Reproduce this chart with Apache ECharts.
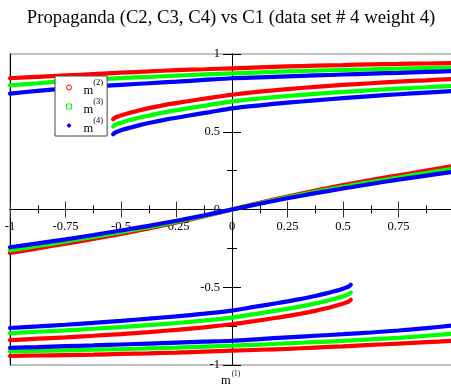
<!DOCTYPE html>
<html><head><meta charset="utf-8">
<script src="https://cdn.jsdelivr.net/npm/echarts@6/dist/echarts.min.js"></script>
<style>html,body{margin:0;padding:0;background:#fff}#c{width:451px;height:385px}</style>
</head><body><div id="c"></div>
<script>
// ---- data ----
const xTickLabels = ['-1', '-0.75', '-0.5', '-0.25', '0', '0.25', '0.5', '0.75', '1'];
const yTickLabels = ['-1', '-0.5', '0', '0.5', '1'];

const xFull = [-1, -0.875, -0.75, -0.625, -0.5, -0.375, -0.25, -0.125, 0, 0.125, 0.25, 0.375, 0.5, 0.625, 0.75, 0.875, 1];

// upper outer branch
const m2UpperA = [0.844, 0.853, 0.862, 0.871, 0.880, 0.888, 0.896, 0.902, 0.908, 0.914, 0.920, 0.925, 0.929, 0.933, 0.936, 0.939, 0.942];
const m3UpperA = [0.799, 0.812, 0.825, 0.835, 0.845, 0.853, 0.861, 0.869, 0.876, 0.882, 0.888, 0.893, 0.898, 0.902, 0.906, 0.910, 0.913];
const m4UpperA = [0.745, 0.763, 0.778, 0.791, 0.802, 0.812, 0.822, 0.833, 0.844, 0.850, 0.856, 0.862, 0.868, 0.874, 0.879, 0.885, 0.890];

// lower outer branch
const m2LowerA = [-0.942, -0.939, -0.936, -0.933, -0.929, -0.925, -0.920, -0.914, -0.908, -0.902, -0.896, -0.888, -0.880, -0.871, -0.862, -0.853, -0.844];
const m3LowerA = [-0.913, -0.910, -0.906, -0.902, -0.898, -0.893, -0.888, -0.882, -0.876, -0.869, -0.861, -0.853, -0.845, -0.835, -0.825, -0.812, -0.799];
const m4LowerA = [-0.890, -0.885, -0.879, -0.874, -0.868, -0.862, -0.856, -0.850, -0.844, -0.833, -0.822, -0.812, -0.802, -0.791, -0.778, -0.763, -0.745];

// middle branch through origin
const m2Mid = [-0.280, -0.250, -0.220, -0.190, -0.157, -0.122, -0.084, -0.043, 0, 0.043, 0.084, 0.122, 0.157, 0.190, 0.220, 0.250, 0.280];
const m3Mid = [-0.262, -0.235, -0.206, -0.177, -0.146, -0.113, -0.078, -0.040, 0, 0.040, 0.078, 0.113, 0.146, 0.177, 0.206, 0.235, 0.262];
const m4Mid = [-0.243, -0.218, -0.192, -0.164, -0.135, -0.105, -0.072, -0.037, 0, 0.037, 0.072, 0.105, 0.135, 0.164, 0.192, 0.218, 0.243];

// upper inner branch (starts near m1 = -0.535)
const xUpperB = [-0.535, -0.525, -0.51, -0.49, -0.46, -0.42, -0.375, -0.3, -0.2, -0.1, 0, 0.125, 0.25, 0.375, 0.5, 0.625, 0.75, 0.875, 1];
const m2UpperB = [0.580, 0.592, 0.600, 0.610, 0.622, 0.637, 0.652, 0.673, 0.696, 0.718, 0.738, 0.758, 0.774, 0.788, 0.801, 0.812, 0.822, 0.831, 0.840];
const m3UpperB = [0.534, 0.546, 0.554, 0.563, 0.575, 0.590, 0.604, 0.626, 0.650, 0.673, 0.695, 0.714, 0.730, 0.744, 0.756, 0.767, 0.777, 0.786, 0.795];
const m4UpperB = [0.484, 0.496, 0.504, 0.514, 0.526, 0.541, 0.556, 0.578, 0.603, 0.626, 0.650, 0.670, 0.687, 0.702, 0.716, 0.729, 0.741, 0.752, 0.762];

// lower inner branch (ends near m1 = 0.535)
const xLowerB = [-1, -0.875, -0.75, -0.625, -0.5, -0.375, -0.25, -0.125, 0, 0.1, 0.2, 0.3, 0.375, 0.42, 0.46, 0.49, 0.51, 0.525, 0.535];
const m2LowerB = [-0.840, -0.831, -0.822, -0.812, -0.801, -0.788, -0.774, -0.758, -0.738, -0.718, -0.696, -0.673, -0.652, -0.637, -0.622, -0.610, -0.600, -0.592, -0.580];
const m3LowerB = [-0.795, -0.786, -0.777, -0.767, -0.756, -0.744, -0.730, -0.714, -0.695, -0.673, -0.650, -0.626, -0.604, -0.590, -0.575, -0.563, -0.554, -0.546, -0.534];
const m4LowerB = [-0.762, -0.752, -0.741, -0.729, -0.716, -0.702, -0.687, -0.670, -0.650, -0.626, -0.603, -0.578, -0.556, -0.541, -0.526, -0.514, -0.504, -0.496, -0.484];

const seriesNames = ['m2', 'm3', 'm4'];
const seriesSup = {m2: '(2)', m3: '(3)', m4: '(4)'};
const titleText = 'Propaganda (C2, C3, C4) vs C1 (data set # 4 weight 4)';

// ---- rendering ----
const FONT = '"Liberation Serif", "Times New Roman", serif';
const COLORS = {m2: '#ff0000', m3: '#00ff00', m4: '#0000ff'};
const pairs = (xs, ys) => xs.map((x, i) => [x, ys[i]]);
const branches = {
  m2: [[xFull, m2UpperA], [xFull, m2LowerA], [xFull, m2Mid], [xUpperB, m2UpperB], [xLowerB, m2LowerB]],
  m3: [[xFull, m3UpperA], [xFull, m3LowerA], [xFull, m3Mid], [xUpperB, m3UpperB], [xLowerB, m3LowerB]],
  m4: [[xFull, m4UpperA], [xFull, m4LowerA], [xFull, m4Mid], [xUpperB, m4UpperB], [xLowerB, m4LowerB]]
};
const series = [];
seriesNames.forEach(n => {
  branches[n].forEach(([xs, ys]) => {
    series.push({
      type: 'line', name: n, data: pairs(xs, ys), symbol: 'none', showSymbol: false,
      smooth: 0.3, silent: true, z: 2, xAxisIndex: 0, yAxisIndex: 0,
      lineStyle: {color: COLORS[n], width: 4.2, cap: 'round'},
      itemStyle: {color: COLORS[n]}
    });
  });
});

const xLabelFmt = v => { const i = Math.round((v + 1) / 0.25); return xTickLabels[i] !== undefined ? xTickLabels[i] : ''; };
const yLabelFmt = v => { const i = Math.round((v + 1) / 0.5); return yTickLabels[i] !== undefined ? yTickLabels[i] : ''; };

const GRID = {left: 10, top: 54, width: 444, height: 311};
const X_OFF = -GRID.height / 2;   // move x axes to the y = 0 level
const Y_OFF = -GRID.width / 2;    // move y axes to the x = 0 level

const baseX = {
  type: 'value', min: -1, max: 1, interval: 0.25,
  splitLine: {show: false},
  axisLine: {show: true, onZero: false, lineStyle: {color: '#000', width: 1}},
  axisTick: {show: true, length: 8, lineStyle: {color: '#333', width: 1}},
  minorTick: {show: true, splitNumber: 2, length: 4, lineStyle: {color: '#000', width: 1}},
  minorSplitLine: {show: false}
};
const baseY = {
  type: 'value', min: -1, max: 1, interval: 0.5,
  splitLine: {show: false},
  axisLine: {show: true, onZero: false, lineStyle: {color: '#000', width: 1}},
  axisTick: {show: true, length: 9, lineStyle: {color: '#000', width: 1}},
  minorTick: {show: true, splitNumber: 2, length: 5, lineStyle: {color: '#000', width: 1}},
  minorSplitLine: {show: false}
};

const chart = echarts.init(document.getElementById('c'), null, {renderer: 'canvas'});
chart.setOption({
  animation: false,
  backgroundColor: '#fff',
  title: [
    {text: titleText, left: 231, textAlign: 'center', top: 9, padding: 0,
     textStyle: {fontFamily: FONT, fontSize: 18.7, fontWeight: 'normal', color: '#000'}},
    {text: '{b|m}{s|(1)}', left: 221, top: 371, padding: 0,
     textStyle: {fontFamily: FONT, color: '#000', fontWeight: 'normal',
       rich: {b: {fontFamily: FONT, fontSize: 12.5, fontWeight: 'normal', color: '#000', padding: [3, 0, 0, 0]},
              s: {fontFamily: FONT, fontSize: 7.2, fontWeight: 'normal', color: '#000', verticalAlign: 'top', padding: [0, 0, 0, 1]}}}}
  ],
  grid: Object.assign({show: true, borderColor: '#808080', borderWidth: 1, backgroundColor: 'transparent',
    containLabel: false, outerBoundsMode: 'none'}, GRID),
  legend: {
    left: 55, top: 76, orient: 'vertical', padding: [2, 4, 1, 11], itemGap: 0,
    itemWidth: 5, itemHeight: 5, borderColor: '#444', borderWidth: 1, backgroundColor: '#fff',
    selectedMode: false, z: 10,
    data: [
      {name: 'm2', icon: 'circle', itemStyle: {color: '#fff', borderColor: '#ff0000', borderWidth: 1}},
      {name: 'm3', icon: 'rect', itemStyle: {color: '#fff', borderColor: '#00ff00', borderWidth: 1}},
      {name: 'm4', icon: 'diamond', itemStyle: {color: '#0000ff', borderWidth: 0}}
    ],
    formatter: n => '{b|m}{s|' + seriesSup[n] + '}',
    textStyle: {fontFamily: FONT, color: '#000',
      rich: {b: {fontFamily: FONT, fontSize: 12.5, color: '#000', padding: [6, 0, 0, 7]},
             s: {fontFamily: FONT, fontSize: 8.5, color: '#000', verticalAlign: 'top'}}}
  },
  xAxis: [
    Object.assign({}, baseX, {position: 'bottom', offset: X_OFF,
      axisLabel: {show: true, margin: 11, fontFamily: FONT, fontSize: 12.5, color: '#000', showMaxLabel: false, formatter: xLabelFmt}}),
    Object.assign({}, baseX, {position: 'top', offset: X_OFF, axisLabel: {show: false}})
  ],
  yAxis: [
    Object.assign({}, baseY, {position: 'left', offset: Y_OFF,
      axisLabel: {show: true, margin: 12, fontFamily: FONT, fontSize: 12.5, color: '#000', formatter: yLabelFmt}}),
    Object.assign({}, baseY, {position: 'right', offset: Y_OFF, axisLabel: {show: false}}),
    {type: 'value', min: -1, max: 1, position: 'left', offset: 0, splitLine: {show: false},
     axisLine: {show: true, onZero: false, lineStyle: {color: '#000', width: 1}},
     axisTick: {show: false}, axisLabel: {show: false}}
  ],
  series: series
});
</script>
</body></html>
